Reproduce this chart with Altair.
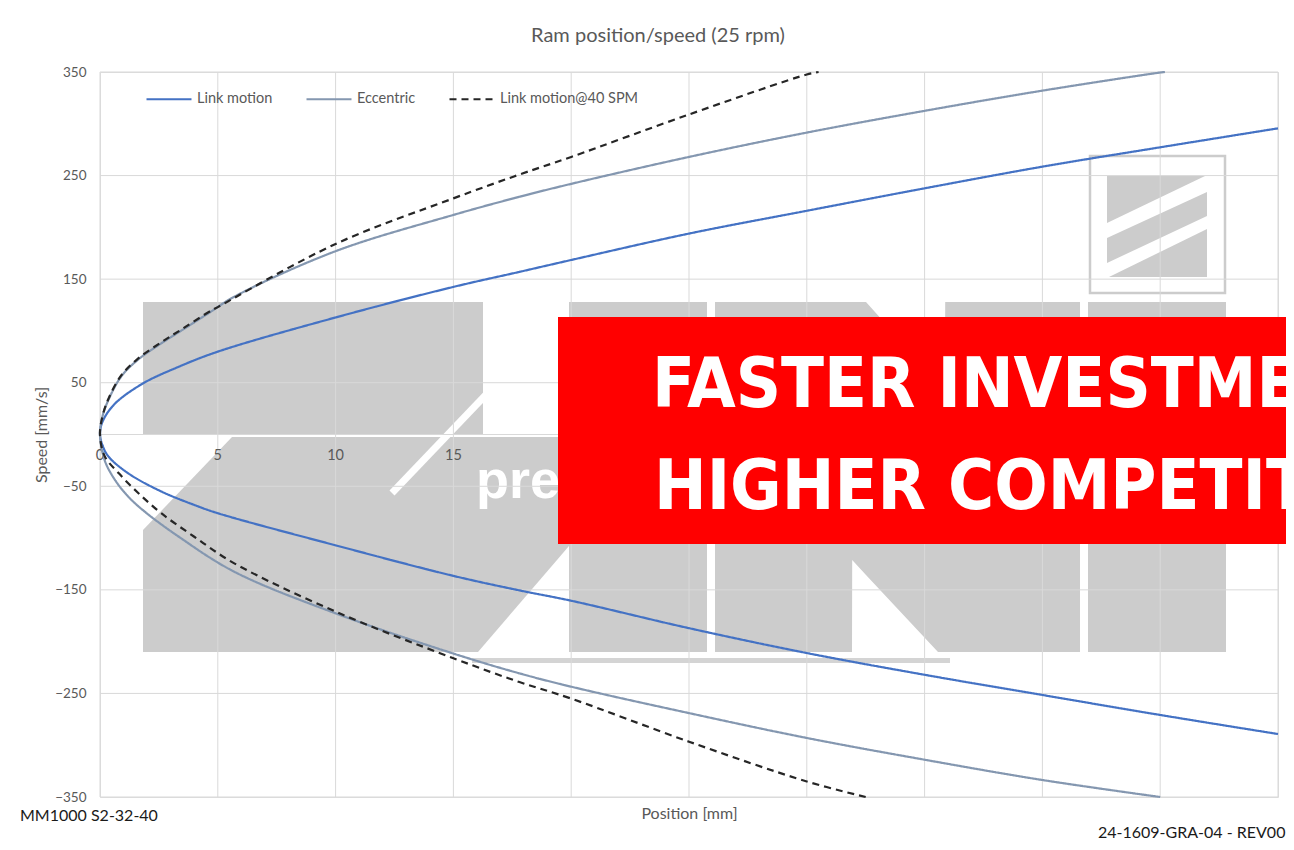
import altair as alt
import pandas as pd

# ---------------- chart data ----------------
TITLE = "Ram position/speed (25 rpm)"
X_TITLE = "Position [mm]"
Y_TITLE = "Speed [mm/s]"
SERIES = ["Link motion", "Eccentric", "Link motion@40 SPM"]
COLORS = ["#4472C4", "#8497B0", "#262626"]

x_ticks = [0, 5, 10, 15, 20, 25, 30, 35, 40, 45, 50]
x_tick_labels_visible = [0, 5, 10, 15]          # the others are hidden behind the red banner
y_ticks = [-350, -250, -150, -50, 50, 150, 250, 350]

# Link motion (25 rpm)
link_up_pos = [0, 0.1, 0.6, 1.8, 3.3, 5, 10, 15, 17.8, 20, 25, 30, 35, 40, 45, 50]
link_up_spd = [0, 12, 29, 49, 65, 80, 113, 142.5, 157, 168.5, 194, 216, 237.7, 258.6, 277.3, 295.6]
link_lo_pos = [0, 0.1, 0.35, 1.2, 2.6, 4, 5, 10, 15, 17.8, 20, 25, 30, 35, 40, 45, 50]
link_lo_spd = [0, -10, -21, -37.5, -55, -68, -76, -107, -136.5, -150.5, -160.5, -187, -211, -232, -251.5, -270.8, -289.2]

# Eccentric
ecc_up_pos = [0, 0.1, 0.35, 0.9, 1.6, 2.6, 3.5, 4.6, 5.7, 10, 15, 17.8, 20, 25, 30, 35, 40, 45, 45.2]
ecc_up_spd = [0, 17, 33, 56, 72, 88, 101, 117, 133, 177, 212, 229.5, 242, 268, 291.5, 312.5, 332, 349.5, 350]
ecc_lo_pos = [0, 0.2, 0.64, 1.2, 1.9, 3.3, 5.7, 10, 15, 17.8, 20, 25, 30, 35, 40, 45]
ecc_lo_spd = [0, -25, -44, -60, -74.5, -98, -132.5, -172.7, -211.5, -230.6, -243.5, -269, -293, -314, -333.6, -350]

# Link motion @ 40 SPM
l40_up_pos = [0, 0.1, 0.35, 0.9, 1.6, 2.6, 3.5, 4.6, 5, 10, 15, 17.8, 20, 25, 30, 30.5]
l40_up_spd = [0, 17, 34, 57, 73, 89, 102, 118, 123, 184, 228, 251, 268, 309, 347.6, 350]
l40_lo_pos = [0, 0.2, 0.8, 1.6, 2.6, 4, 5.7, 10, 15, 17.8, 20, 25, 30, 32.5]
l40_lo_spd = [0, -21, -37.5, -56, -76, -98.7, -124.4, -171, -216, -239, -255, -296.6, -335, -350]

# ---------------- build tables ----------------
rows = []
for name, lp, ls, up, us in [
    (SERIES[0], link_lo_pos, link_lo_spd, link_up_pos, link_up_spd),
    (SERIES[1], ecc_lo_pos, ecc_lo_spd, ecc_up_pos, ecc_up_spd),
    (SERIES[2], l40_lo_pos, l40_lo_spd, l40_up_pos, l40_up_spd),
]:
    seq = list(zip(lp[::-1], ls[::-1])) + list(zip(up[1:], us[1:]))
    for i, (p, s) in enumerate(seq):
        rows.append({"series": name, "pos": p, "speed": s, "idx": i})
lines_df = pd.DataFrame(rows)

W, H = 1178, 725
FONT = "Lato"
GREY_TXT = "#595959"
GRID = "#D9D9D9"
WM = "#CCCCCC"

xs = alt.Scale(domain=[0, 50], nice=False, zero=False)
ys = alt.Scale(domain=[-350, 350], nice=False, zero=False)

X_AXIS = alt.Axis(labels=False, ticks=False, domain=False, grid=False, title=X_TITLE,
                  titleFont=FONT, titleFontSize=16, titleFontWeight="normal",
                  titleColor=GREY_TXT, titlePadding=8)
Y_AXIS = alt.Axis(values=y_ticks, grid=False, ticks=False, domain=False, labelPadding=14,
                  labelFont=FONT, labelFontSize=13.5, labelColor=GREY_TXT,
                  title=Y_TITLE, titleFont=FONT, titleFontSize=16, titleFontWeight="normal",
                  titleColor=GREY_TXT, titlePadding=5)

# helpers converting page pixels of the decorative watermark into the plot's units
def px2pos(px):
    return (px - 100) / W * 50

def py2spd(py):
    return 350 - (py - 72) / H * 700

one = pd.DataFrame({"a": [0]})

def deco_text(text, x, y, size, color, weight="normal", font=FONT, align="left", baseline="alphabetic"):
    return alt.Chart(one).mark_text(
        text=text, font=font, fontSize=size, color=color, fontWeight=weight,
        align=align, baseline=baseline
    ).encode(x=alt.value(x), y=alt.value(y))

def deco_rect(x0, y0, x1, y1, **kw):
    return alt.Chart(one).mark_rect(**kw).encode(
        x=alt.value(x0 - 100), x2=alt.value(x1 - 100), y=alt.value(y0 - 72), y2=alt.value(y1 - 72))

def deco_poly(pts):
    """vertical-area piece of the watermark logo; pts = (x, y_top, y_bottom) in page px"""
    df = pd.DataFrame({
        "wx": [px2pos(p[0]) for p in pts],
        "wy": [py2spd(p[1]) for p in pts],
        "wy2": [py2spd(p[2]) for p in pts],
    })
    return alt.Chart(df).mark_area(color=WM, opacity=1, interpolate="linear", orient="vertical").encode(
        x=alt.X("wx:Q", scale=xs, axis=X_AXIS),
        y=alt.Y("wy:Q", scale=ys, axis=Y_AXIS, stack=None),
        y2="wy2:Q",
    )

# watermark logo (decoration)
wm_layers = [
    deco_rect(143, 302, 483, 434, color=WM),
    deco_poly([(143, 530, 652), (232, 437, 652), (478, 437, 652), (557, 437, 560), (662, 437, 437)]),
    deco_rect(569, 302, 707, 652, color=WM),
    deco_poly([(715, 302, 652), (852, 302, 652), (852.2, 302, 560), (866, 302, 575), (938, 382, 652),
               (945, 390, 652), (945.2, 302, 652), (1080, 302, 652)]),
    deco_rect(1088, 302, 1226, 652, color=WM),
    deco_poly([(1107, 176, 223), (1205, 176, 176)]),
    deco_poly([(1107, 238, 263), (1207, 192, 216)]),
    deco_poly([(1109, 277, 277), (1207, 229, 277)]),
    deco_rect(1090, 156, 1225, 293, fillOpacity=0, stroke=WM, strokeWidth=2.5),
    alt.Chart(one).mark_rule(color="white", strokeWidth=7).encode(
        x=alt.value(392 - 100), y=alt.value(493 - 72), x2=alt.value(500 - 100), y2=alt.value(380 - 72)),
    deco_text("press", 476 - 100, 498 - 72, 54, "white", weight="bold", font="Liberation Sans"),
    deco_rect(472, 658, 950, 663, color="#D4D4D4"),
]

vgrid = alt.Chart(pd.DataFrame({"pos": x_ticks})).mark_rule(color=GRID, strokeWidth=1).encode(
    x=alt.X("pos:Q", scale=xs, axis=X_AXIS))
hgrid = alt.Chart(pd.DataFrame({"speed": y_ticks + [0]})).mark_rule(color=GRID, strokeWidth=1).encode(
    y=alt.Y("speed:Q", scale=ys, axis=Y_AXIS))

xlabels = alt.Chart(pd.DataFrame({"pos": x_tick_labels_visible,
                                  "zero": [0] * len(x_tick_labels_visible)})).mark_text(
    font=FONT, fontSize=14.5, color=GREY_TXT, baseline="top", dy=14
).encode(
    x=alt.X("pos:Q", scale=xs, axis=X_AXIS),
    y=alt.Y("zero:Q", scale=ys, axis=Y_AXIS),
    text=alt.Text("pos:Q"),
)

legend = alt.Legend(
    title=None, orient="none", legendX=45, legendY=3, direction="horizontal",
    symbolType="stroke", symbolSize=2025, symbolStrokeWidth=2.2,
    labelFont=FONT, labelFontSize=14.5, labelColor=GREY_TXT, labelOffset=4,
    columnPadding=29, padding=0,
)

lines = alt.Chart(lines_df).mark_line(interpolate="catmull-rom", strokeWidth=2.2).encode(
    x=alt.X("pos:Q", scale=xs, axis=X_AXIS),
    y=alt.Y("speed:Q", scale=ys, axis=Y_AXIS),
    color=alt.Color("series:N", scale=alt.Scale(domain=SERIES, range=COLORS), legend=legend),
    strokeDash=alt.StrokeDash("series:N", scale=alt.Scale(domain=SERIES, range=[[1, 0], [1, 0], [7, 5]]),
                              legend=legend),
    order="idx:Q",
)

BANNER_FONT = "Liberation Sans Narrow, DejaVu Sans Condensed, Liberation Sans"
banner = deco_rect(558, 317, 1300, 544, color="#FF0000")
banner1 = deco_text("FASTER INVESTMENT", 652 - 100, 407 - 72, 70, "white", weight="bold", font=BANNER_FONT)
banner2 = deco_text("HIGHER COMPETITIVENESS", 654 - 100, 509 - 72, 70, "white", weight="bold", font=BANNER_FONT)

foot1 = deco_text("MM1000 S2-32-40", 20 - 100, 816 - 72, 16, "#1a1a1a", baseline="middle")
foot2 = deco_text("24-1609-GRA-04 - REV00", 1098 - 100, 833 - 72, 16, "#1a1a1a", baseline="middle")

chart = alt.layer(
    *wm_layers, vgrid, hgrid, xlabels, lines, banner, banner1, banner2, foot1, foot2,
).resolve_scale(x="shared", y="shared").properties(
    width=W, height=H,
    autosize=alt.AutoSizeParams(type="none"),
    padding={"left": 92, "top": 64, "right": 8, "bottom": 45},
    title=alt.TitleParams(TITLE, anchor="middle", frame="group", dx=-31, offset=3,
                          font=FONT, fontSize=20, fontWeight="normal", color=GREY_TXT,
                          baseline="alphabetic"),
).configure_view(stroke=None).configure(background="white")

chart.save("out.html", embed_options={"renderer": "svg", "actions": False})
